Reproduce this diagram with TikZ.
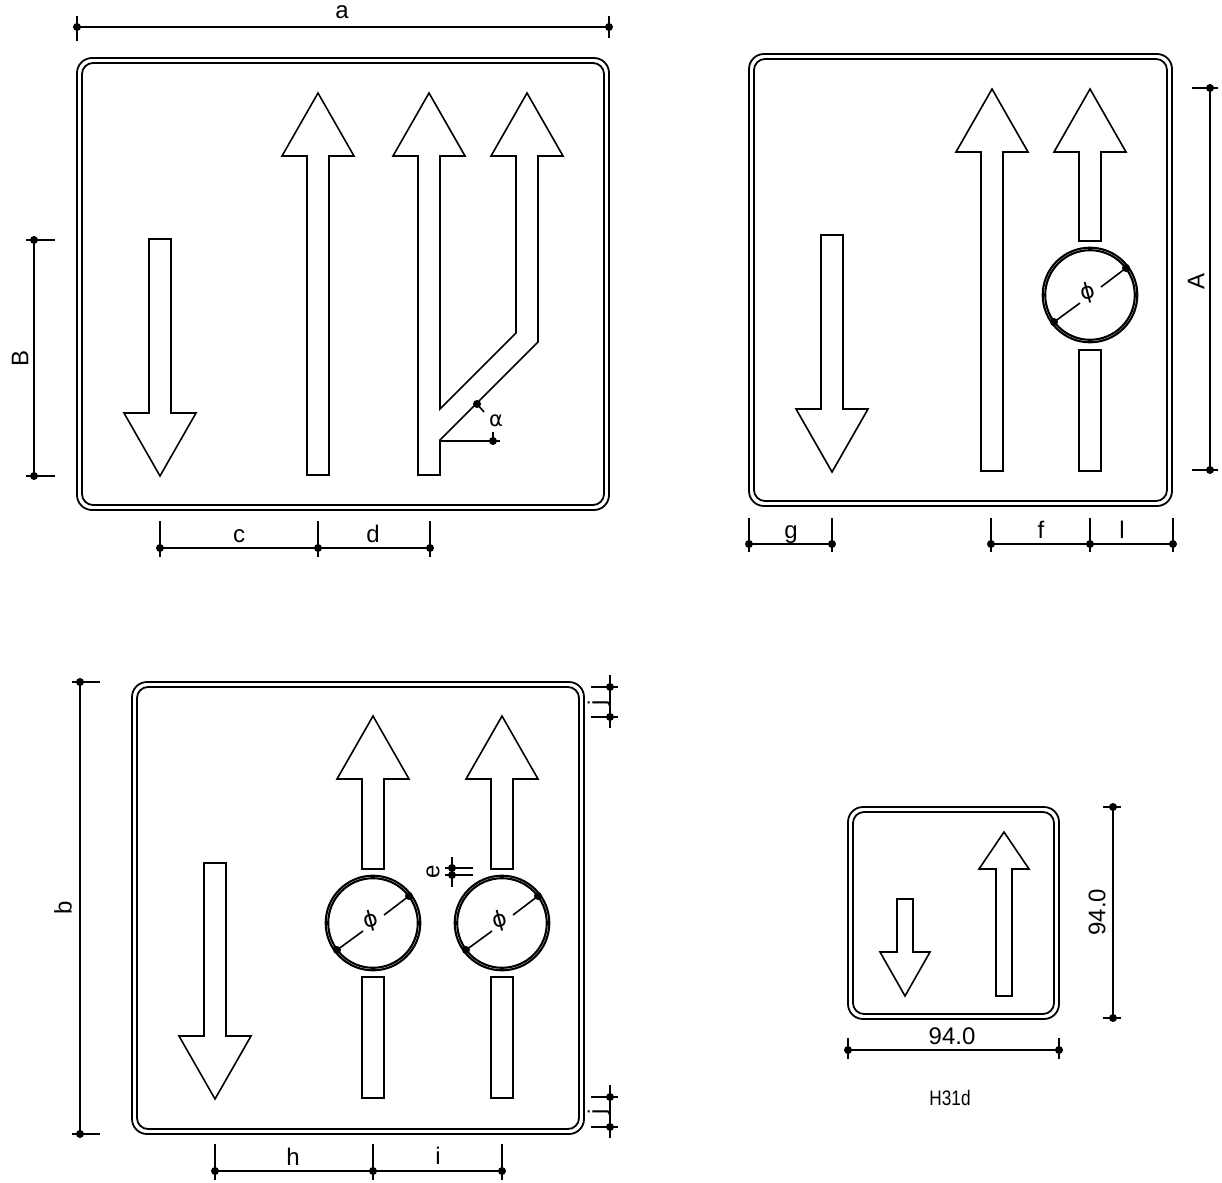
\documentclass[tikz,border=0pt]{standalone}
\usepackage{fontspec}
\setmainfont{Liberation Sans}
\newfontfamily\symfont{DejaVu Sans}
\tikzset{
  ink/.style={draw=black,line width=1.6pt,line join=miter},
  dimline/.style={draw=black,line width=1.6pt},
  frameline/.style={draw=black,line width=1.8pt},
  lbl/.style={font=\fontsize{24}{26}\selectfont,inner sep=0pt},
  numlbl/.style={font=\fontsize{24}{26}\selectfont,inner sep=0pt},
}
\newcommand{\signframe}[4]{
  \draw[frameline,rounded corners=15pt] (#1,#2) rectangle (#3,#4);
  \draw[frameline,rounded corners=11pt] (#1+5,#2+5) rectangle (#3-5,#4-5);
}
\newcommand{\uparr}[6]{
  \draw[ink] (#1-#5,#6) -- (#1-#5,#3) -- (#1-#4,#3) -- (#1,#2) -- (#1+#4,#3) -- (#1+#5,#3) -- (#1+#5,#6) -- cycle;
}
\newcommand{\dnarr}[6]{
  \draw[ink] (#1-#5,#6) -- (#1-#5,#3) -- (#1-#4,#3) -- (#1,#2) -- (#1+#4,#3) -- (#1+#5,#3) -- (#1+#5,#6) -- cycle;
}
\newcommand{\ringsym}[2]{
  \draw[draw=black,line width=2.1pt] (#1,#2) circle[radius=47.3];
  \draw[draw=black,line width=2.1pt] (#1,#2) circle[radius=44.8];
  \fill (#1+36,#2-27) circle[radius=4];
  \fill (#1-36,#2+27) circle[radius=4];
  \draw[dimline] (#1-36,#2+27) -- (#1-10,#2+8);
  \draw[dimline] (#1+11,#2-8) -- (#1+36,#2-27);
  \node[inner sep=0pt,rotate=15,font=\symfont\fontsize{22}{24}\selectfont] at (#1-2,#2-2) {ϕ};
}
\newcommand{\tickv}[3]{%
  \draw[dimline] (#1,#2) -- (#1,#3);
  \fill (#1,\dimy) circle[radius=4];
}
\newcommand{\tickh}[3]{%
  \draw[dimline] (#2,#1) -- (#3,#1);
  \fill (\dimx,#1) circle[radius=4];
}
\begin{document}
\begin{tikzpicture}[x=1pt,y=-1pt]
\useasboundingbox (0,0) rectangle (1222,1182);
\fill[white] (0,0) rectangle (1222,1182);

%% ---------- sign 1
\signframe{77}{58}{609}{510}
\dnarr{160}{476}{413}{36}{11}{239}
\uparr{318}{93}{156}{36}{11}{475}
\draw[ink] (418,475) -- (418,156) -- (393,156) -- (429,93) -- (465,156) -- (440,156) -- (440,409)
  -- (516,333) -- (516,156) -- (491,156) -- (527,93) -- (563,156) -- (538,156) -- (538,342)
  -- (440,440) -- (440,475) -- cycle;
\coordinate (alfaA) at (477,404);
\coordinate (alfaB) at (484,412);
\coordinate (alfaC) at (440,441);
\coordinate (alfaD) at (500,441);
\coordinate (alfaE) at (493,432);
\coordinate (alfaF) at (493,441);
\draw[dimline] (alfaA) -- (alfaB);
\draw[dimline] (alfaC) -- (alfaD);
\draw[dimline] (alfaE) -- (alfaF);
\fill (alfaA) circle[radius=4];
\fill (alfaF) circle[radius=4];
\node[inner sep=0pt,font=\symfont\fontsize{21}{23}\selectfont] (alfa) at (496,421) {α};

% a
\def\dimy{27}
\coordinate (a1) at (77,27); \coordinate (a2) at (609,27);
\draw[dimline] (a1) -- (a2);
\tickv{77}{16}{41}\tickv{609}{16}{38}
\node[lbl] (la) at (342,12) {a};
% B
\coordinate (B1) at (34,240); \coordinate (B2) at (34,476);
\draw[dimline] (B1) -- (B2);
\def\dimx{34}
\tickh{240}{26}{55}\tickh{476}{26}{55}
\node[lbl,rotate=90] (lB) at (20,358) {B};
% c d
\def\dimy{548}
\coordinate (c1) at (160,548); \coordinate (c2) at (318,548); \coordinate (c3) at (430,548);
\draw[dimline] (c1) -- (c2) -- (c3);
\tickv{160}{521}{557}\tickv{318}{521}{557}\tickv{430}{521}{557}
\node[lbl] (lc) at (239,536) {c};
\node[lbl] (ld) at (373,534) {d};

%% ---------- sign 2
\signframe{749}{54}{1172}{506}
\dnarr{832}{472}{409}{36}{11}{235}
\uparr{992}{89}{152}{36}{11}{471}
\uparr{1090}{89}{152}{36}{11}{241}
\draw[ink] (1079,350) rectangle (1101,471);
\ringsym{1090}{295}
% A
\coordinate (A1) at (1210,88); \coordinate (A2) at (1210,470);
\draw[dimline] (A1) -- (A2);
\def\dimx{1210}
\tickh{88}{1192}{1218}\tickh{470}{1192}{1218}
\node[lbl,rotate=90] (lA) at (1196,281) {A};
% g
\def\dimy{544}
\coordinate (g1) at (749,544); \coordinate (g2) at (832,544);
\draw[dimline] (g1) -- (g2);
\tickv{749}{518}{552}\tickv{832}{518}{552}
\node[lbl] (lg) at (791,535) {g};
% f l
\coordinate (f1) at (991,544); \coordinate (f2) at (1090,544); \coordinate (f3) at (1173,544);
\draw[dimline] (f1) -- (f2) -- (f3);
\tickv{991}{518}{552}\tickv{1090}{518}{552}\tickv{1173}{518}{552}
\node[lbl] (lf) at (1041,530) {f};
\node[lbl] (ll) at (1122,530) {l};

%% ---------- sign 3
\signframe{132}{682}{584}{1134}
\dnarr{215}{1099}{1036}{36}{11}{863}
\uparr{373}{716}{779}{36}{11}{869}
\draw[ink] (362,977) rectangle (384,1098);
\ringsym{373}{923}
\uparr{502}{716}{779}{36}{11}{869}
\draw[ink] (491,977) rectangle (513,1098);
\ringsym{502}{923}
% e
\coordinate (e1) at (452,857); \coordinate (e2) at (452,887);
\draw[dimline] (e1) -- (e2);
\def\dimx{452}
\tickh{868}{445}{473}\tickh{875}{445}{473}
\node[lbl,rotate=90] (le) at (433,872) {e};
% j top
\coordinate (j1) at (610,675); \coordinate (j2) at (610,728);
\draw[dimline] (j1) -- (j2);
\def\dimx{610}
\tickh{687}{591}{618}\tickh{717}{591}{618}
\node[lbl,rotate=90] (lj1) at (599,703) {j};
% j bottom
\coordinate (j3) at (610,1085); \coordinate (j4) at (610,1138);
\draw[dimline] (j3) -- (j4);
\tickh{1097}{591}{618}\tickh{1127}{591}{618}
\node[lbl,rotate=90] (lj2) at (599,1112) {j};
% b
\coordinate (b1) at (80,682); \coordinate (b2) at (80,1134);
\draw[dimline] (b1) -- (b2);
\def\dimx{80}
\tickh{682}{72}{100}\tickh{1134}{72}{100}
\node[lbl,rotate=90] (lb) at (63,908) {b};
% h i
\def\dimy{1171}
\coordinate (h1) at (215,1171); \coordinate (h2) at (373,1171); \coordinate (h3) at (502,1171);
\draw[dimline] (h1) -- (h2) -- (h3);
\tickv{215}{1144}{1180}\tickv{373}{1144}{1180}\tickv{502}{1144}{1180}
\node[lbl] (lh) at (293,1157) {h};
\node[lbl] (li) at (438,1156) {i};

%% ---------- sign 4
\signframe{848}{807}{1059}{1019}
\dnarr{905}{996}{952}{25}{8}{899}
\uparr{1004}{832}{869}{25}{8}{996}
% 94.0 h
\def\dimy{1050}
\coordinate (n1) at (848,1050); \coordinate (n2) at (1059,1050);
\draw[dimline] (n1) -- (n2);
\tickv{848}{1038}{1059}\tickv{1059}{1038}{1059}
\node[numlbl] (ln1) at (952,1036) {94.0};
% 94.0 v
\coordinate (n3) at (1113,807); \coordinate (n4) at (1113,1018);
\draw[dimline] (n3) -- (n4);
\def\dimx{1113}
\tickh{807}{1103}{1121}\tickh{1018}{1103}{1121}
\node[numlbl,rotate=90] (ln2) at (1097,912) {94.0};
\node[inner sep=0pt,xscale=.82,font=\fontsize{21}{23}\selectfont] (lH) at (950,1098) {H31d};
\end{tikzpicture}
\end{document}
